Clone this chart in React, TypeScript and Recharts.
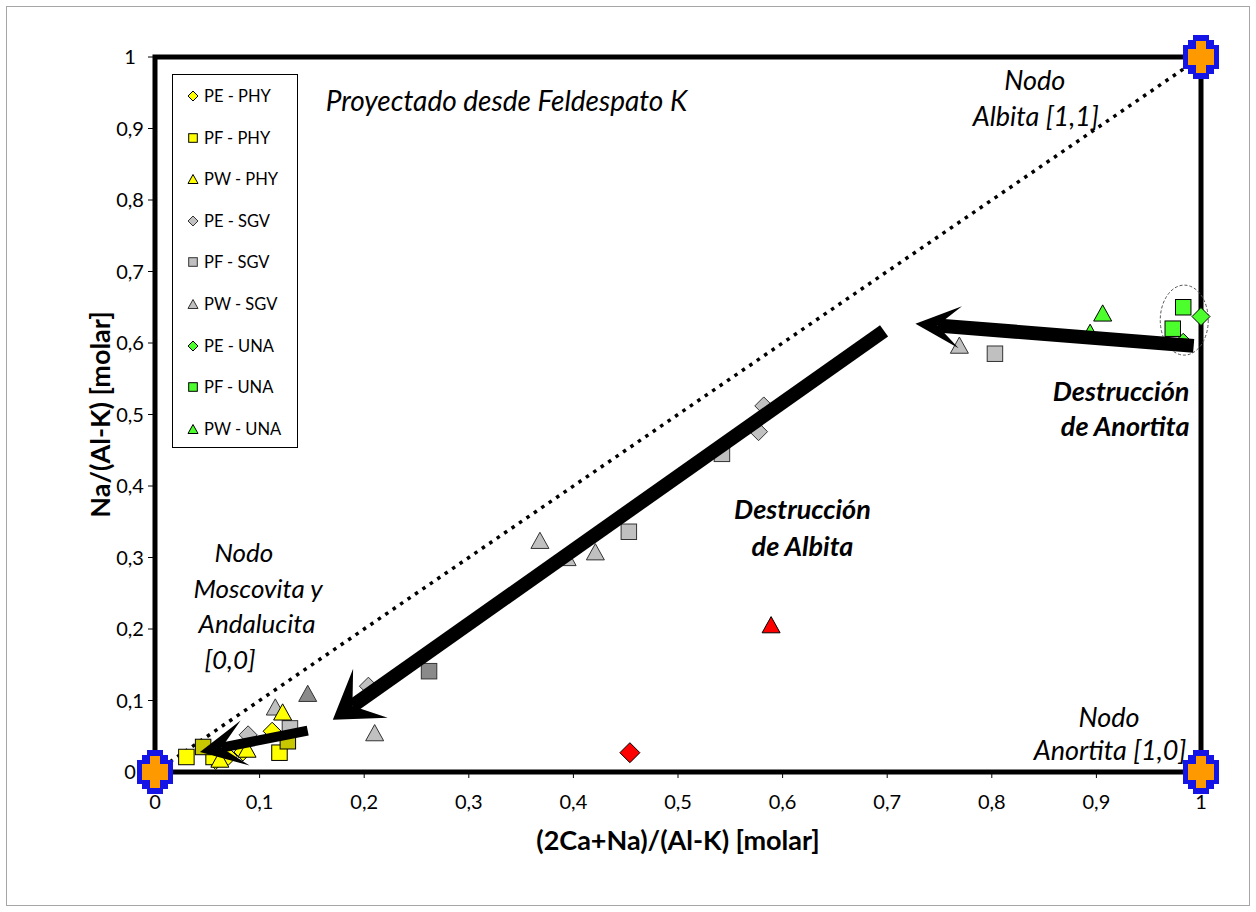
import React from 'react';
import {
  ScatterChart,
  Scatter,
  XAxis,
  YAxis,
  ReferenceLine,
  ReferenceArea,
  ReferenceDot,
  Legend,
} from 'recharts';

const FONT = 'Lato, "Open Sans", "DejaVu Sans", sans-serif';

type Pt = { x: number; y: number };

// ---- samples, projected from K-feldspar: x = (2Ca+Na)/(Al-K), y = Na/(Al-K) ----
const pePhy: Pt[] = [
  { x: 0.112, y: 0.057 },
  { x: 0.084, y: 0.028 },
  { x: 0.07, y: 0.022 },
  { x: 0.058, y: 0.016 },
];
const pfPhy: Pt[] = [
  { x: 0.03, y: 0.021 },
  { x: 0.056, y: 0.021 },
  { x: 0.119, y: 0.027 },
];
const pfPhyDark: Pt[] = [
  { x: 0.046, y: 0.035 },
  { x: 0.127, y: 0.043 },
];
const pwPhy: Pt[] = [
  { x: 0.122, y: 0.084 },
  { x: 0.088, y: 0.032 },
  { x: 0.062, y: 0.018 },
];
const peSgv: Pt[] = [
  { x: 0.582, y: 0.512 },
  { x: 0.577, y: 0.476 },
  { x: 0.204, y: 0.12 },
  { x: 0.089, y: 0.052 },
];
const pfSgv: Pt[] = [
  { x: 0.803, y: 0.585 },
  { x: 0.542, y: 0.445 },
  { x: 0.453, y: 0.336 },
  { x: 0.129, y: 0.061 },
];
const pfSgvDark: Pt[] = [{ x: 0.262, y: 0.141 }];
const pwSgv: Pt[] = [
  { x: 0.769, y: 0.597 },
  { x: 0.368, y: 0.324 },
  { x: 0.394, y: 0.3 },
  { x: 0.421, y: 0.308 },
  { x: 0.115, y: 0.091 },
  { x: 0.21, y: 0.055 },
];
const pwSgvDark: Pt[] = [{ x: 0.146, y: 0.11 }];
const peUna: Pt[] = [
  { x: 1.0, y: 0.637 },
  { x: 0.983, y: 0.601 },
];
const pfUna: Pt[] = [
  { x: 0.983, y: 0.65 },
  { x: 0.973, y: 0.62 },
];
const pwUna: Pt[] = [
  { x: 0.906, y: 0.642 },
  { x: 0.894, y: 0.615 },
];
const redTriangle: Pt[] = [{ x: 0.589, y: 0.206 }];
const redDiamond: Pt[] = [{ x: 0.454, y: 0.027 }];

// end-member nodes: moscovita/andalucita, anortita, albita
const nodes: Pt[] = [
  { x: 0, y: 0 },
  { x: 1, y: 0 },
  { x: 1, y: 1 },
];

const xTicks = [0, 0.1, 0.2, 0.3, 0.4, 0.5, 0.6, 0.7, 0.8, 0.9, 1];
const yTicks = [0, 0.1, 0.2, 0.3, 0.4, 0.5, 0.6, 0.7, 0.8, 0.9, 1];

const YELLOW = '#FFFF00';
const YELLOW_DARK = '#C8C800';
const GRAY = '#C0C0C0';
const GRAY_DARK = '#8A8A8A';
const GREEN = '#4CFF2C';
const RED = '#FF0000';

type Kind = 'diamond' | 'square' | 'triangle';

const legendItems: { name: string; kind: Kind; color: string }[] = [
  { name: 'PE - PHY', kind: 'diamond', color: YELLOW },
  { name: 'PF - PHY', kind: 'square', color: YELLOW },
  { name: 'PW - PHY', kind: 'triangle', color: YELLOW },
  { name: 'PE - SGV', kind: 'diamond', color: GRAY },
  { name: 'PF - SGV', kind: 'square', color: GRAY },
  { name: 'PW - SGV', kind: 'triangle', color: GRAY },
  { name: 'PE - UNA', kind: 'diamond', color: GREEN },
  { name: 'PF - UNA', kind: 'square', color: GREEN },
  { name: 'PW - UNA', kind: 'triangle', color: GREEN },
];

const fmt = (v: number) => (v === 0 || v === 1 ? String(v) : v.toFixed(1).replace('.', ','));

function Marker({ cx, cy, kind, fill, stroke, size }: { cx: number; cy: number; kind: Kind; fill: string; stroke: string; size: number }) {
  const h = size / 2;
  if (kind === 'diamond') {
    return (
      <polygon
        points={`${cx},${cy - h} ${cx + h},${cy} ${cx},${cy + h} ${cx - h},${cy}`}
        fill={fill}
        stroke={stroke}
        strokeWidth={1}
      />
    );
  }
  if (kind === 'square') {
    const s = size * 0.86;
    return <rect x={cx - s / 2} y={cy - s / 2} width={s} height={s} fill={fill} stroke={stroke} strokeWidth={1} />;
  }
  const th = size * 0.9;
  return (
    <polygon
      points={`${cx},${cy - th / 2} ${cx + h},${cy + th / 2} ${cx - h},${cy + th / 2}`}
      fill={fill}
      stroke={stroke}
      strokeWidth={1}
    />
  );
}

const shapeOf = (kind: Kind, fill: string, stroke: string, size: number) => (p: any) => (
  <Marker cx={p.cx} cy={p.cy} kind={kind} fill={fill} stroke={stroke} size={size} />
);

// stepped cross outline, built from [halfWidth, halfHeight] steps (narrow & tall first)
const stairs = (steps: [number, number][]) => {
  const pts: [number, number][] = [];
  steps.forEach(([w, h], i) => {
    pts.push([w, -h]);
    if (steps[i + 1]) pts.push([w, -steps[i + 1][1]]);
  });
  const q1 = [...pts].reverse().map(([x, y]) => [-x, y] as [number, number]);
  const q2 = pts.map(([x, y]) => [x, y] as [number, number]);
  const q3 = [...pts].reverse().map(([x, y]) => [x, -y] as [number, number]);
  const q4 = pts.map(([x, y]) => [-x, -y] as [number, number]);
  return [...q1, ...q2, ...q3, ...q4];
};

const outerCross = stairs([
  [8, 22],
  [13, 17],
  [18, 12],
]);
const innerCross = stairs([
  [5, 16],
  [13, 8],
]);

function NodeCross(p: any) {
  const { cx, cy } = p;
  const toPts = (arr: [number, number][]) => arr.map(([x, y]) => `${cx + x},${cy + y}`).join(' ');
  return (
    <g>
      <polygon points={toPts(outerCross)} fill="#1414E6" />
      <polygon points={toPts(innerCross)} fill="#FF9900" />
    </g>
  );
}

// thick line ending in a stealth arrow head
const arrowShape = (width: number, headLen: number, headHalf: number, notch: number) => (p: any) => {
  const { x1, y1, x2, y2 } = p;
  const dx = x2 - x1;
  const dy = y2 - y1;
  const L = Math.hypot(dx, dy) || 1;
  const ux = dx / L;
  const uy = dy / L;
  const nx = -uy;
  const ny = ux;
  const bx = x2 - ux * headLen;
  const by = y2 - uy * headLen;
  const mx = x2 - ux * notch;
  const my = y2 - uy * notch;
  return (
    <g>
      <line x1={x1} y1={y1} x2={mx} y2={my} stroke="#000" strokeWidth={width} />
      <polygon
        points={`${x2},${y2} ${bx + nx * headHalf},${by + ny * headHalf} ${mx},${my} ${bx - nx * headHalf},${by - ny * headHalf}`}
        fill="#000"
      />
    </g>
  );
};

const note = (
  key: string,
  x: number,
  y: number,
  text: string,
  anchor: 'start' | 'middle' | 'end',
  bold = false,
  size = 27,
) => (
  <ReferenceDot
    key={key}
    x={x}
    y={y}
    r={0}
    zIndex={900}
    shape={(p: any) => (
      <text
        x={p.cx}
        y={p.cy}
        textAnchor={anchor}
        dominantBaseline="central"
        fontFamily={FONT}
        fontStyle="italic"
        fontWeight={bold ? 700 : 400}
        fontSize={size}
        fill="#000"
      >
        {text}
      </text>
    )}
  />
);

function LegendBox() {
  return (
    <div
      style={{
        position: 'relative',
        width: 126,
        height: 374,
        border: '1px solid #000',
        boxSizing: 'border-box',
        background: '#fff',
        fontFamily: FONT,
        fontSize: 16.5,
        color: '#000',
      }}
    >
      {legendItems.map((it, i) => (
        <div
          key={it.name}
          style={{ position: 'absolute', left: 0, top: 21 + i * 41.6 - 10, height: 20, display: 'flex', alignItems: 'center' }}
        >
          <svg width={14} height={14} style={{ marginLeft: 13 }}>
            <Marker cx={7} cy={7} kind={it.kind} fill={it.color} stroke={it.color === GRAY ? '#333' : '#000'} size={10} />
          </svg>
          <span style={{ marginLeft: 4, whiteSpace: 'nowrap' }}>{it.name}</span>
        </div>
      ))}
    </div>
  );
}

export default function App() {
  return (
    <div style={{ position: 'absolute', left: 0, top: 0, width: 1256, height: 912, background: '#fff' }}>
      <div
        style={{
          position: 'absolute',
          left: 6,
          top: 6,
          width: 1242,
          height: 898,
          border: '1px solid #A6A6A6',
        }}
      />
      <div style={{ position: 'absolute', left: 0, top: 0 }}>
        <ScatterChart width={1256} height={912} margin={{ top: 57, right: 55, bottom: 4, left: 45 }}>
          <XAxis
            type="number"
            dataKey="x"
            domain={[0, 1]}
            ticks={xTicks}
            tickFormatter={fmt}
            height={136}
            axisLine={false}
            tickLine={{ stroke: '#000' }}
            tickSize={6}
            tickMargin={17}
            tick={{ fill: '#000', fontSize: 20, fontFamily: FONT }}
            label={{
              value: '(2Ca+Na)/(Al-K) [molar]',
              position: 'center',
              fill: '#000',
              fontSize: 27,
              fontWeight: 700,
              fontFamily: FONT,
            }}
          />
          <YAxis
            type="number"
            dataKey="y"
            domain={[0, 1]}
            ticks={yTicks}
            tickFormatter={fmt}
            width={110}
            axisLine={false}
            tickLine={{ stroke: '#000' }}
            tickSize={7}
            tickMargin={18}
            tick={{ fill: '#000', fontSize: 20, fontFamily: FONT, textAnchor: 'middle' }}
            label={{
              value: 'Na/(Al-K) [molar]',
              position: 'center',
              angle: -90,
              fill: '#000',
              fontSize: 27,
              fontWeight: 700,
              fontFamily: FONT,
            }}
          />
          <ReferenceArea x1={0} x2={1} y1={0} y2={1} fill="none" fillOpacity={0} stroke="#000" strokeWidth={5} zIndex={50} />
          <ReferenceLine
            segment={[
              { x: 0, y: 0 },
              { x: 1, y: 1 },
            ]}
            stroke="#000"
            strokeWidth={3.5}
            strokeDasharray="3.5 5.5"
            zIndex={60}
          />
          <ReferenceDot
            x={0.984}
            y={0.632}
            r={0}
            zIndex={60}
            shape={(p: any) => (
              <ellipse cx={p.cx} cy={p.cy} rx={24} ry={35} fill="none" stroke="#555" strokeWidth={1} strokeDasharray="3 2" />
            )}
          />

          <Scatter name="PE - SGV" data={peSgv} isAnimationActive={false} shape={shapeOf('diamond', GRAY, '#333', 18)} zIndex={600} />
          <Scatter name="PF - SGV" data={pfSgv} isAnimationActive={false} shape={shapeOf('square', GRAY, '#333', 18)} zIndex={600} />
          <Scatter name="PF - SGV*" data={pfSgvDark} isAnimationActive={false} shape={shapeOf('square', GRAY_DARK, '#333', 18)} zIndex={600} />
          <Scatter name="PW - SGV" data={pwSgv} isAnimationActive={false} shape={shapeOf('triangle', GRAY, '#333', 18)} zIndex={600} />
          <Scatter name="PW - SGV*" data={pwSgvDark} isAnimationActive={false} shape={shapeOf('triangle', GRAY_DARK, '#333', 18)} zIndex={600} />
          <Scatter name="PE - PHY" data={pePhy} isAnimationActive={false} shape={shapeOf('diamond', YELLOW, '#000', 18)} zIndex={600} />
          <Scatter name="PF - PHY" data={pfPhy} isAnimationActive={false} shape={shapeOf('square', YELLOW, '#000', 18)} zIndex={600} />
          <Scatter name="PF - PHY*" data={pfPhyDark} isAnimationActive={false} shape={shapeOf('square', YELLOW_DARK, '#000', 18)} zIndex={600} />
          <Scatter name="PW - PHY" data={pwPhy} isAnimationActive={false} shape={shapeOf('triangle', YELLOW, '#000', 18)} zIndex={600} />
          <Scatter name="PE - UNA" data={peUna} isAnimationActive={false} shape={shapeOf('diamond', GREEN, '#000', 18)} zIndex={600} />
          <Scatter name="PF - UNA" data={pfUna} isAnimationActive={false} shape={shapeOf('square', GREEN, '#000', 18)} zIndex={600} />
          <Scatter name="PW - UNA" data={pwUna} isAnimationActive={false} shape={shapeOf('triangle', GREEN, '#000', 18)} zIndex={600} />
          <Scatter name="red-tri" data={redTriangle} isAnimationActive={false} shape={shapeOf('triangle', RED, '#000', 18)} zIndex={600} />
          <Scatter name="red-dia" data={redDiamond} isAnimationActive={false} shape={shapeOf('diamond', RED, '#000', 20)} zIndex={600} />

          <ReferenceLine
            segment={[
              { x: 0.697, y: 0.617 },
              { x: 0.17, y: 0.073 },
            ]}
            shape={arrowShape(14, 46, 30, 24)}
            zIndex={700}
          />
          <ReferenceLine
            segment={[
              { x: 0.993, y: 0.596 },
              { x: 0.727, y: 0.627 },
            ]}
            shape={arrowShape(14, 45, 21, 22)}
            zIndex={700}
          />
          <ReferenceLine
            segment={[
              { x: 0.146, y: 0.058 },
              { x: 0.043, y: 0.028 },
            ]}
            shape={arrowShape(10, 46, 23, 22)}
            zIndex={700}
          />

          <Scatter name="nodes" data={nodes} isAnimationActive={false} shape={NodeCross} zIndex={800} />

          {note('t-proj', 0.336, 0.94, 'Proyectado desde Feldespato K', 'middle', false, 28)}
          {note('t-ab1', 0.841, 0.968, 'Nodo', 'middle')}
          {note('t-ab2', 0.842, 0.918, 'Albita [1,1]', 'middle')}
          {note('t-an1', 0.989, 0.534, 'Destrucción', 'end', true)}
          {note('t-an2', 0.989, 0.485, 'de Anortita', 'end', true)}
          {note('t-al1', 0.619, 0.369, 'Destrucción', 'middle', true)}
          {note('t-al2', 0.619, 0.317, 'de Albita', 'middle', true)}
          {note('t-ms1', 0.085, 0.308, 'Nodo', 'middle', false, 26)}
          {note('t-ms2', 0.0985, 0.257, 'Moscovita y', 'middle', false, 26)}
          {note('t-ms3', 0.0975, 0.208, 'Andalucita', 'middle', false, 26)}
          {note('t-ms4', 0.0717, 0.158, '[0,0]', 'middle', false, 26)}
          {note('t-ao1', 0.912, 0.078, 'Nodo', 'middle')}
          {note('t-ao2', 0.913, 0.031, 'Anortita [1,0]', 'middle')}

          <Legend
            layout="vertical"
            align="center"
            verticalAlign="middle"
            wrapperStyle={{ position: 'absolute', left: 172, top: 74, width: 126, height: 374 }}
            content={() => <LegendBox />}
          />
        </ScatterChart>
      </div>
    </div>
  );
}
